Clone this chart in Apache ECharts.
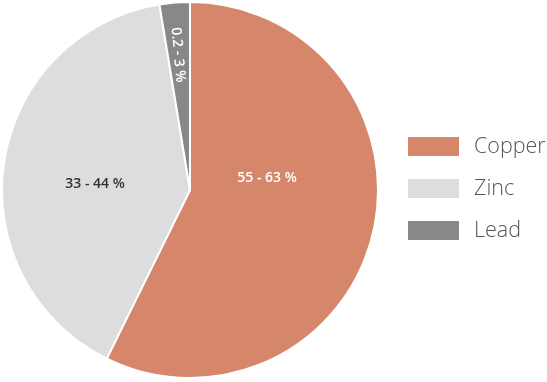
<!DOCTYPE html>
<html>
<head>
<meta charset="utf-8">
<script src="https://cdn.jsdelivr.net/npm/echarts@6/dist/echarts.min.js"></script>
<style>html,body{margin:0;padding:0;background:#fff;}#c{width:547px;height:382px;}</style>
</head>
<body>
<div id="c"></div>
<script>
const categories = ['Copper', 'Zinc', 'Lead'];
const values = [57.3, 40.1, 2.6];
const labelTexts = ['55 - 63 %', '33 - 44 %', '0.2 - 3 %'];

const colors = ['#D6866A', '#DCDDDF', '#87888A'];
const labelColors = ['#ffffff', '#333333', '#ffffff'];
const labelPos = [[267, 178], [95, 184], [178, 55]];
const labelRotate = [0, 0, -85];

const chart = echarts.init(document.getElementById('c'), null, {renderer: 'canvas'});
chart.setOption({
  animation: false,
  color: colors,
  legend: {
    orient: 'vertical',
    left: 401,
    top: 130,
    itemWidth: 53,
    itemHeight: 21,
    itemGap: 19,
    icon: 'rect',
    textStyle: {fontFamily: 'Open Sans', fontSize: 21.5, fontWeight: 300, color: '#555555', padding: [0, 0, 0, 9]},
    data: categories
  },
  series: [{
    type: 'pie',
    center: [190, 190],
    radius: 188,
    startAngle: 90,
    clockwise: true,
    avoidLabelOverlap: false,
    itemStyle: {borderColor: '#ffffff', borderWidth: 2},
    emphasis: {disabled: true},
    label: {
      show: true,
      position: 'inside',
      fontFamily: 'Open Sans',
      fontSize: 14,
      fontWeight: 600
    },
    labelLayout: function (p) {
      return {x: labelPos[p.dataIndex][0], y: labelPos[p.dataIndex][1], rotate: labelRotate[p.dataIndex]};
    },
    data: categories.map((c, i) => ({
      name: c,
      value: values[i],
      label: {formatter: labelTexts[i], color: labelColors[i]}
    }))
  }]
});
</script>
</body>
</html>
